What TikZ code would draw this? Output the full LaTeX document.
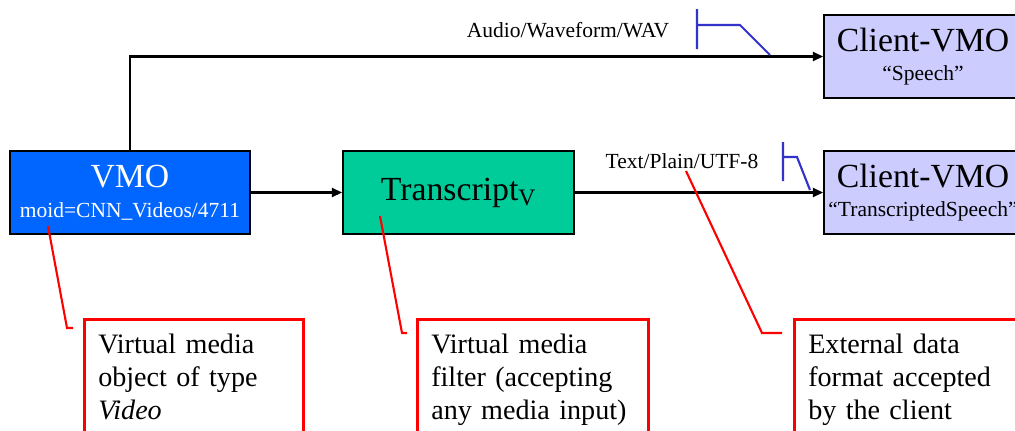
\documentclass[tikz,border=0pt]{standalone}
\usepackage{fontspec}
\setmainfont{Liberation Serif}
\usetikzlibrary{positioning,arrows.meta}
\definecolor{vmoblue}{HTML}{0066FF}
\definecolor{filtergreen}{HTML}{00CC99}
\definecolor{clientlilac}{HTML}{CCCCFF}
\definecolor{markblue}{HTML}{3333CC}
\newcommand\headtxt[1]{{\fontsize{24}{27}\selectfont #1}}

\begin{document}
\begin{tikzpicture}[x=0.025cm, y=-0.025cm,
  box/.style={draw=black, line width=1pt, minimum height=2.075cm, inner sep=0pt,
    align=center, font=\fontsize{15.3}{17}\selectfont},
  flow/.style={line width=1.9pt, -{Triangle[length=0.26cm,width=0.22cm]}},
  fmt/.style={anchor=base, font=\fontsize{15.3}{17}\selectfont},
  marker/.style={draw=markblue, line width=1.5pt},
  note/.style={draw=red, line width=1.8pt, anchor=north west,
    inner xsep=0.35cm, inner ysep=0.36cm, align=left, font=\fontsize{20}{23.5}\selectfont},
  leader/.style={draw=red, line width=1.5pt},
]
  \clip (0,0) rectangle (1015,430);

  \node[box, fill=vmoblue, text=white, minimum width=6cm] (vmo) at (130,192.5)
    {\headtxt{VMO}\\[4pt]moid=CNN\_Videos/4711};
  \node[box, fill=filtergreen, minimum width=5.775cm] (transcript) at (458.5,192.5)
    {\headtxt{Transcript\textsubscript{V}}};
  \node[box, fill=clientlilac, minimum width=4.95cm] (speech) at (923,56.5)
    {\headtxt{Client-VMO}\\[4pt]“Speech”};
  \node[box, fill=clientlilac, minimum width=4.95cm] (textclient) at (923,192.5)
    {\headtxt{Client-VMO}\\[4pt]“TranscriptedSpeech”};

  \draw[flow] (vmo) -- (transcript);
  \draw[flow] (transcript) -- (textclient);
  \draw[flow] (vmo.north) |- (speech.west);

  \node[fmt] (wav) at (568,37) {Audio/Waveform/WAV};
  \node[fmt] (utf) at (682,168) {Text/Plain/UTF-8};

  \draw[marker] (697,9) -- (697,49) (697,25) -- (740,25) -- (770,55);
  \draw[marker] (783,142) -- (783,181) (783,157) -- (797,157) -- (810,190);

  \node[note, text width=4.775cm] (vmonote) at (83,318)
    {Virtual media\\object of type\\\textit{Video}\\[20pt]};
  \node[note, text width=5.075cm] (filternote) at (416,318)
    {Virtual media\\filter (accepting\\any media input)\\[20pt]};
  \node[note, text width=5.3cm] (formatnote) at (793,318)
    {External data\\format accepted\\by the client\\[20pt]};

  \coordinate (vmopin) at (48,226);
  \coordinate (filterpin) at (380,216);
  \coordinate (formatpin) at (686,171);
  \draw[leader] (vmopin) -- (67,328) -- (73,328);
  \draw[leader] (filterpin) -- (402,333) -- (407,333);
  \draw[leader] (formatpin) -- (762,333) -- (782,333);
\end{tikzpicture}
\end{document}
